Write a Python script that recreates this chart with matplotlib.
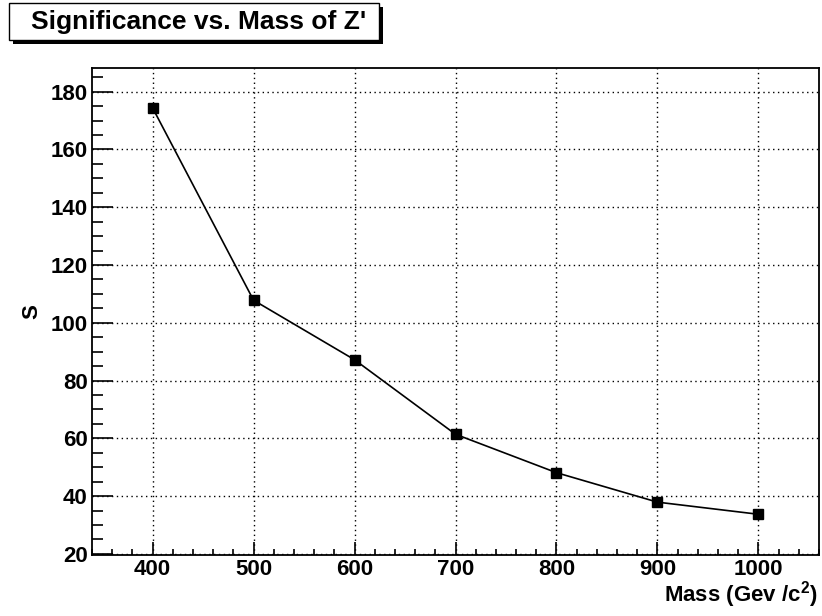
import matplotlib
matplotlib.use('Agg')
import matplotlib.pyplot as plt
from matplotlib.patches import Rectangle
from matplotlib.ticker import MultipleLocator

plt.rcParams['font.family'] = ['Liberation Sans', 'DejaVu Sans']
plt.rcParams['font.weight'] = 'bold'
plt.rcParams['mathtext.fontset'] = 'custom'
plt.rcParams['mathtext.rm'] = 'Liberation Sans:bold'
plt.rcParams['mathtext.it'] = 'Liberation Sans:bold'
plt.rcParams['mathtext.bf'] = 'Liberation Sans:bold'

# data
mass = [400, 500, 600, 700, 800, 900, 1000]
signif = [174.4, 107.8, 87.2, 61.4, 48.1, 37.9, 33.7]

W, H = 822, 616
fig = plt.figure(figsize=(W / 100, H / 100), dpi=100)
ax = fig.add_axes([92 / W, 1 - 555 / H, (819 - 92) / W, (555 - 68) / H])

ax.plot(mass, signif, color='black', lw=1.2, marker='s', ms=6.5,
        mfc='black', mec='black', zorder=3)

ax.set_xlim(340, 1060)
ax.set_ylim(19.6, 188.2)
ax.xaxis.set_major_locator(MultipleLocator(100))
ax.xaxis.set_minor_locator(MultipleLocator(20))
ax.yaxis.set_major_locator(MultipleLocator(20))
ax.yaxis.set_minor_locator(MultipleLocator(5))
ax.tick_params(axis='both', which='both', direction='in', top=False, right=False,
               labelsize=16, width=1.2, color='black')
ax.tick_params(axis='y', which='major', length=15, pad=3)
ax.tick_params(axis='y', which='minor', length=8)
ax.tick_params(axis='x', which='major', length=9.5, pad=3)
ax.tick_params(axis='x', which='minor', length=4.5)
for lab in ax.get_xticklabels() + ax.get_yticklabels():
    lab.set_fontweight('bold')

ax.grid(True, which='major', color='black', linestyle=(0, (1, 2.5)), lw=1.0)
for s in ax.spines.values():
    s.set_linewidth(1.3)

fig.text(818 / W, 1 - 602 / H, r'Mass (Gev /c$^{2}$)', ha='right', va='baseline',
         fontsize=16, fontweight='bold')
fig.text(32 / W, 1 - 312 / H, 'S', rotation=90, ha='center', va='center',
         fontsize=16, fontweight='bold')

# title box with shadow, ROOT style
fig.add_artist(Rectangle((13 / W, 1 - 44 / H), 370 / W, 37 / H,
                         transform=fig.transFigure, facecolor='black',
                         edgecolor='black', lw=0))
fig.add_artist(Rectangle((9 / W, 1 - 40 / H), 370 / W, 37 / H,
                         transform=fig.transFigure, facecolor='white',
                         edgecolor='black', lw=1.0))
fig.text(199 / W, 1 - 22 / H, "Significance vs. Mass of Z'", ha='center', va='center',
         fontsize=19, fontweight='bold')

fig.savefig('out.png', dpi=100)
